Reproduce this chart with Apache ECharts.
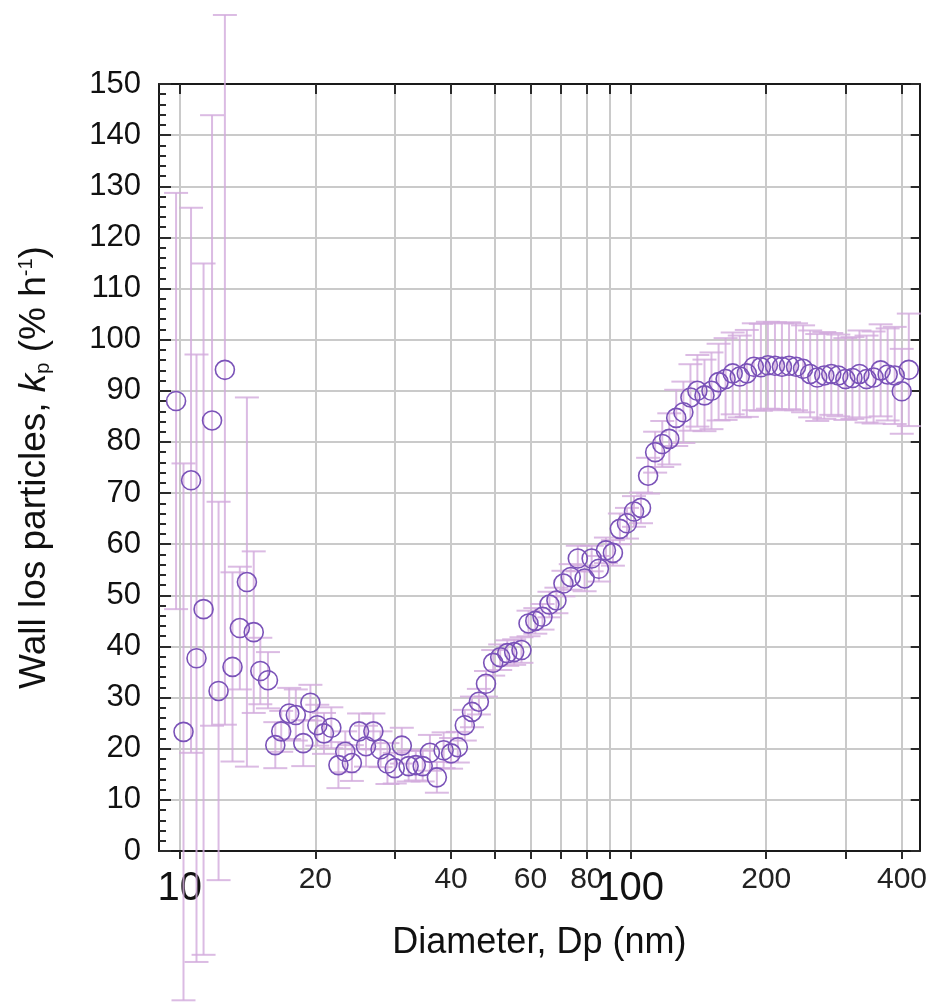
<!DOCTYPE html>
<html><head><meta charset="utf-8">
<script src="https://cdn.jsdelivr.net/npm/echarts@6/dist/echarts.min.js"></script>
<style>html,body{margin:0;padding:0;background:#fff}#c{width:930px;height:1006px}</style>
</head><body><div id="c"></div>
<script>
const diameters = [9.82,10.2,10.6,10.9,11.3,11.8,12.2,12.6,13.1,13.6,14.1,14.6,15.1,15.7,16.3,16.8,17.5,18.1,18.8,19.5,20.2,20.9,21.7,22.5,23.3,24.1,25.0,25.9,26.9,27.9,28.9,30.0,31.1,32.2,33.4,34.6,35.9,37.2,38.5,40.0,41.4,42.9,44.5,46.1,47.8,49.6,51.4,53.3,55.2,57.3,59.4,61.5,63.8,66.1,68.5,71.0,73.7,76.4,79.1,82.0,85.1,88.2,91.4,94.7,98.2,101.8,105.5,109.4,113.4,117.6,121.9,126.3,131.0,135.8,140.7,145.9,151.2,156.8,162.5,168.5,174.7,181.1,187.7,194.6,201.7,209.1,216.7,224.7,232.9,241.4,250.3,259.5,269.0,278.8,289.0,299.6,310.6,322.0,333.8,346.0,358.7,371.8,385.4,399.5,414.2];
const kp = [88.0,23.3,72.5,37.7,47.3,84.2,31.3,94.1,36.0,43.6,52.6,42.8,35.2,33.4,20.7,23.4,26.9,26.6,21.1,29.0,24.6,23.0,24.1,16.8,19.4,17.2,23.4,20.5,23.4,19.9,17.1,16.2,20.6,16.6,16.8,16.6,19.2,14.4,19.7,19.1,20.3,24.6,27.2,29.2,32.7,36.8,37.9,38.7,38.9,39.3,44.5,45.0,45.8,48.2,49.0,52.3,53.6,57.2,53.3,57.2,55.2,58.8,58.3,63.0,64.1,66.4,67.1,73.4,78.0,79.6,80.6,84.7,85.8,88.7,90.0,89.1,90.0,91.7,92.3,93.4,92.8,93.4,94.7,94.6,95.0,94.9,94.7,94.9,94.7,94.3,93.3,92.6,93.0,93.3,93.0,92.3,92.5,93.3,92.3,92.6,94.0,93.2,93.0,89.9,94.1];
const kpErr = [40.7,52.5,53.3,59.4,67.6,59.7,37,69.4,18.5,12,36.1,15.8,6.5,5.5,4.5,4,5,5,4.5,3.5,4,4,4,4.5,4,3.5,3.5,4,3.5,3.5,4,3,3.5,3,3,3,3.5,3,3.5,3,3,3,3,2.5,2.5,2.5,2.5,2.5,2.5,2.5,2.5,2.5,2.5,2.5,2.5,2.5,2.5,2.5,2.5,2.5,2.5,2.5,2.5,3,3,3,3,3.5,4,4.5,5,5.5,6,6.5,7,7,7.5,7.5,8,8,8,8.5,8.5,8.5,8.5,8.5,8.5,8.5,8.5,8.5,8.5,8.5,8.5,8,8,8,8,8.5,8.5,9,9,9,9.5,8.3,11];
const xTickValues = [10,20,30,40,50,60,70,80,90,100,200,300,400];
const xLabelValues = [10,20,40,60,80,100,200,400];

const narrow = "'Liberation Sans Narrow','Liberation Sans',Arial,sans-serif";
const sans = "'Liberation Sans',Arial,sans-serif";
const axisLineStyle = {color:'#1a1a1a', width:2};
const tickStyle = {color:'#2a2a2a', width:2};
const gridStyle = {color:'#cacaca', width:2};
const barColor = 'rgba(210,170,220,0.8)';

const chart = echarts.init(document.getElementById('c'), null, {renderer:'canvas'});
chart.setOption({
  animation:false,
  backgroundColor:'#fff',
  grid:{left:159, right:8, top:84, bottom:155, containLabel:false},
  xAxis:[{
    type:'log', min:9, max:438, position:'bottom',
    axisLine:{show:true, onZero:false, lineStyle:axisLineStyle},
    axisTick:{show:true, inside:false, length:8, customValues:xTickValues, lineStyle:tickStyle},
    axisLabel:{
      customValues:xLabelValues, margin:14,
      formatter:function(v){ const r=Math.round(v); return (r===10||r===100)?'{big|'+r+'}':'{small|'+r+'}'; },
      rich:{
        big:{fontSize:40, fontFamily:narrow, color:'#111', padding:[4,0,0,0]},
        small:{fontSize:30, fontFamily:narrow, color:'#222'}
      }
    },
    splitLine:{show:true, lineStyle:gridStyle},
    name:'Diameter, Dp (nm)', nameLocation:'middle', nameGap:74,
    nameTextStyle:{fontSize:36, fontFamily:narrow, color:'#111'}
  },{
    type:'log', min:9, max:438, position:'top',
    axisLine:{show:true, onZero:false, lineStyle:axisLineStyle},
    axisTick:{show:true, inside:true, length:10, customValues:xTickValues, lineStyle:tickStyle},
    axisLabel:{show:false},
    splitLine:{show:false}
  }],
  yAxis:[{
    type:'value', min:0, max:150, interval:10, position:'left',
    axisLine:{show:true, onZero:false, lineStyle:axisLineStyle},
    axisTick:{show:true, inside:true, length:12, lineStyle:tickStyle},
    minorTick:{show:true, splitNumber:5, length:7, lineStyle:tickStyle},
    axisLabel:{fontSize:31, fontFamily:sans, color:'#111', margin:18},
    splitLine:{show:true, lineStyle:gridStyle},
    name:'Wall los particles, {it|k}{sub|p} (% h{sup|-1})',
    nameLocation:'middle', nameGap:106, nameRotate:90,
    nameTextStyle:{fontSize:37, fontFamily:narrow, color:'#111',
      rich:{
        it:{fontSize:37, fontFamily:sans, fontStyle:'italic', color:'#111'},
        sub:{fontSize:20, fontFamily:sans, color:'#111', verticalAlign:'bottom', padding:[14,0,0,0]},
        sup:{fontSize:20, fontFamily:sans, color:'#111', verticalAlign:'top', padding:[0,0,14,0]}
      }}
  },{
    type:'value', min:0, max:150, interval:10, position:'right',
    axisLine:{show:true, onZero:false, lineStyle:axisLineStyle},
    axisTick:{show:true, inside:true, length:9, lineStyle:tickStyle},
    axisLabel:{show:false},
    splitLine:{show:false}
  }],
  series:[{
    type:'custom',
    xAxisIndex:0, yAxisIndex:0,
    clip:false,
    z:2,
    data: diameters.map((d,i)=>[d, kp[i]-kpErr[i], kp[i]+kpErr[i]]),
    encode:{x:0, y:[1,2]},
    renderItem:function(params, api){
      const x = api.value(0);
      const top = api.coord([x, api.value(2)]);
      const bot = api.coord([x, api.value(1)]);
      const hw = 12;
      const st = {stroke:barColor, lineWidth:2};
      return {type:'group', children:[
        {type:'line', shape:{x1:top[0], y1:top[1], x2:bot[0], y2:bot[1]}, style:st},
        {type:'line', shape:{x1:top[0]-hw, y1:top[1], x2:top[0]+hw, y2:top[1]}, style:st},
        {type:'line', shape:{x1:bot[0]-hw, y1:bot[1], x2:bot[0]+hw, y2:bot[1]}, style:st}
      ]};
    }
  },{
    type:'scatter',
    xAxisIndex:0, yAxisIndex:0,
    z:3,
    symbol:'circle', symbolSize:19,
    itemStyle:{color:'rgba(255,255,255,0)', borderColor:'#7a52b8', borderWidth:1.6, opacity:1},
    data: diameters.map((d,i)=>[d, kp[i]])
  }]
});
</script></body></html>
